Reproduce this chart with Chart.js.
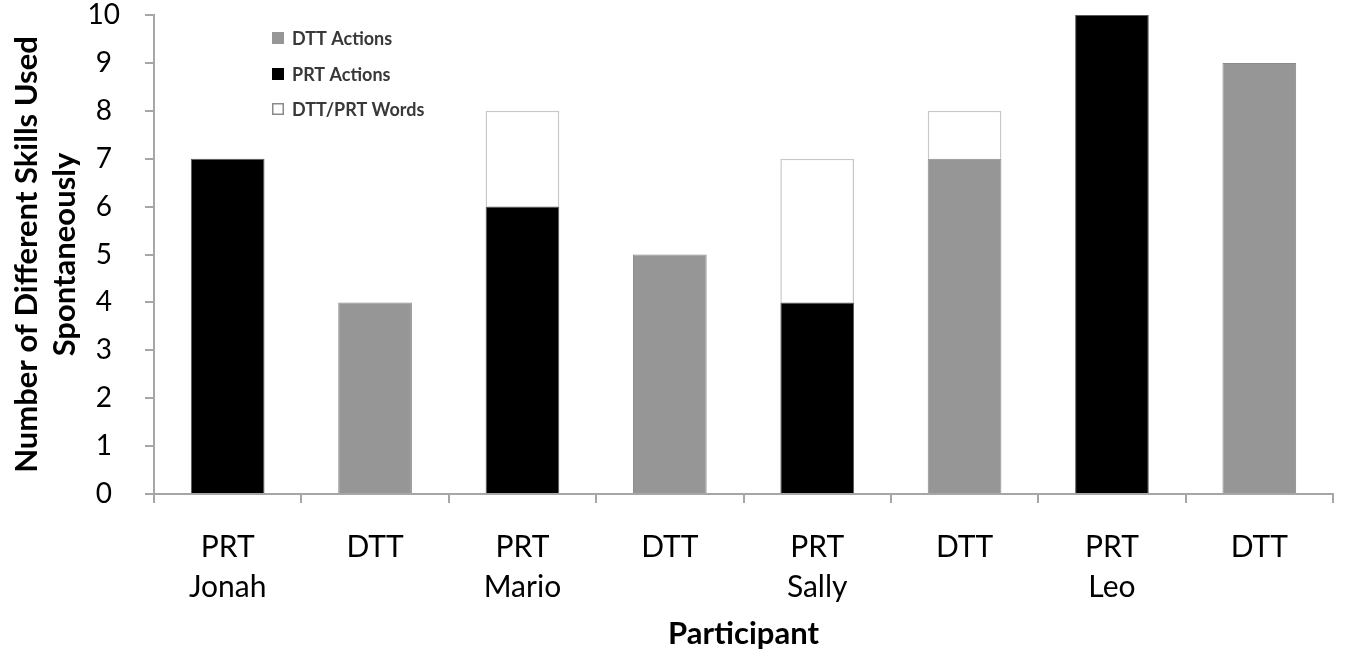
<!DOCTYPE html>
<html>
<head>
<meta charset="utf-8">
<script src="https://cdn.jsdelivr.net/npm/chart.js@4/dist/chart.umd.min.js"></script>
<style>
  html, body { margin: 0; padding: 0; background: #fff; }
  #wrap { width: 1346px; height: 658px; position: relative; }
</style>
</head>
<body>
<div id="wrap"><canvas id="c"></canvas></div>
<script>
const categories = [["PRT", "Jonah"], "DTT", ["PRT", "Mario"], "DTT", ["PRT", "Sally"], "DTT", ["PRT", "Leo"], "DTT"];
const dttActions = [null, 4, null, 5, null, 7, null, 9];
const prtActions = [7, null, 6, null, 4, null, 10, null];
const words = [null, null, 2, null, 3, 1, null, null];
const yTicks = [0, 1, 2, 3, 4, 5, 6, 7, 8, 9, 10];
const seriesNames = ["DTT Actions", "PRT Actions", "DTT/PRT Words"];

const FONT = "Lato, 'Open Sans', sans-serif";

const legendPlugin = {
  id: 'insideLegend',
  afterDraw(chart) {
    const ctx = chart.ctx;
    const rows = [38, 74, 109];
    ctx.save();
    ctx.font = "bold 18px " + FONT;
    ctx.textBaseline = 'middle';
    chart.data.datasets.forEach((ds, i) => {
      const cy = rows[i];
      const bx = 272, size = 12;
      ctx.fillStyle = ds.backgroundColor;
      ctx.fillRect(bx, cy - size / 2, size, size);
      ctx.lineWidth = 1.5;
      ctx.strokeStyle = ds.legendBorder;
      ctx.strokeRect(bx + 0.75, cy - size / 2 + 0.75, size - 1.5, size - 1.5);
      ctx.fillStyle = '#383838';
      ctx.fillText(ds.label, 292, cy + 1);
    });
    ctx.restore();
  }
};

new Chart(document.getElementById('c'), {
  type: 'bar',
  data: {
    labels: categories,
    datasets: [
      { label: seriesNames[0], data: dttActions, backgroundColor: '#969696', borderColor: '#8a8a8a', borderWidth: 1, legendBorder: '#969696' },
      { label: seriesNames[1], data: prtActions, backgroundColor: '#000000', borderColor: '#5a5a5a', borderWidth: 1, legendBorder: '#000000' },
      { label: seriesNames[2], data: words, backgroundColor: '#ffffff', borderColor: '#c8c8c8', borderWidth: 1.5, legendBorder: '#8a8a8a' }
    ]
  },
  options: {
    responsive: true,
    maintainAspectRatio: false,
    animation: false,
    layout: { padding: { top: 15, right: 13, left: 0, bottom: 0 } },
    datasets: { bar: { barPercentage: 1, categoryPercentage: 0.5, borderSkipped: 'start' } },
    plugins: { legend: { display: false }, tooltip: { enabled: false } },
    scales: {
      x: {
        stacked: true,
        grid: { display: true, drawOnChartArea: false, drawTicks: true, tickLength: 9, color: '#a6a6a6', lineWidth: 2, offset: true },
        border: { display: true, color: '#a6a6a6', width: 2 },
        ticks: { color: '#000', font: { family: FONT, size: 30, lineHeight: 1.333 }, padding: 24, maxRotation: 0, autoSkip: false },
        title: { display: true, text: 'Participant', color: '#000', font: { family: FONT, size: 31, weight: 'bold', lineHeight: 1.2 }, padding: { top: 0, bottom: 5 } },
        afterFit(scale) { scale.height = 164; }
      },
      y: {
        stacked: true,
        min: 0,
        max: 10,
        grid: { display: true, drawOnChartArea: false, drawTicks: true, tickLength: 9, color: '#a6a6a6', lineWidth: 2 },
        border: { display: true, color: '#a6a6a6', width: 2 },
        afterBuildTicks(scale) { scale.ticks = yTicks.map(v => ({ value: v })); },
        ticks: { color: '#000', font: { family: FONT, size: 28, lineHeight: 1 }, padding: 25, crossAlign: 'center' },
        title: { display: true, text: ["Number of Different Skills Used", "Spontaneously"], color: '#000', font: { family: FONT, size: 31, weight: 'bold', lineHeight: 1.226 }, padding: { top: 8, bottom: 0 } },
        afterFit(scale) { scale.width = 154; scale.paddingTop = 0; scale.paddingBottom = 0; }
      }
    }
  },
  plugins: [legendPlugin]
});
</script>
</body>
</html>
